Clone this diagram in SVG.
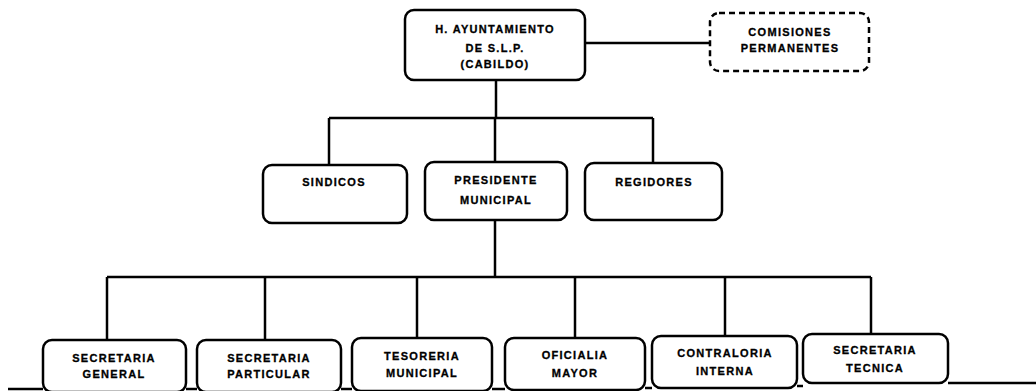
<svg xmlns="http://www.w3.org/2000/svg" width="1036" height="391" viewBox="0 0 1036 391">
<style>
.box{fill:#fff;stroke:#000;stroke-width:2.5}
.dash{fill:#fff;stroke:#000;stroke-width:2.5;stroke-dasharray:6 4}
.ln{fill:none;stroke:#000;stroke-width:2.5}
text{font-family:"Liberation Sans",Arial,sans-serif;font-weight:bold;font-size:11px;letter-spacing:1.3px;text-anchor:middle;fill:#000;stroke:#000;stroke-width:0.3}
</style>
<rect width="1036" height="391" fill="#fff"/>
<g id="connectors">
<path class="ln" d="M585 43H712"/>
<path class="ln" d="M496 80V118"/>
<path class="ln" d="M329 118H653"/>
<path class="ln" d="M329 118V165"/>
<path class="ln" d="M495 118V162"/>
<path class="ln" d="M653 118V163"/>
<path class="ln" d="M495 220V277"/>
<path class="ln" d="M107 277H871"/>
<path class="ln" d="M107 277V340"/>
<path class="ln" d="M265 277V340"/>
<path class="ln" d="M417 277V338"/>
<path class="ln" d="M575 277V338"/>
<path class="ln" d="M725 277V336"/>
<path class="ln" d="M871 277V334"/>
<path class="ln" d="M8 389H43"/>
<path class="ln" d="M186 389H197"/>
<path class="ln" d="M341 389H352"/>
<path class="ln" d="M492 389H505"/>
<path class="ln" d="M645 388H652"/>
<path class="ln" d="M797 386H803"/>
<path class="ln" d="M948 383H1036"/>
</g>
<g id="cabildo">
<rect class="box" x="405" y="10" width="180" height="70" rx="9"/>
<text x="495" y="33">H. AYUNTAMIENTO</text>
<text x="495" y="52">DE S.L.P.</text>
<text x="495" y="68">(CABILDO)</text>
</g>
<g id="comisiones">
<rect class="dash" x="710" y="13" width="159" height="58" rx="9"/>
<text x="790" y="36">COMISIONES</text>
<text x="790" y="52">PERMANENTES</text>
</g>
<g id="sindicos">
<rect class="box" x="263" y="165" width="144" height="58" rx="9"/>
<text x="334" y="186">SINDICOS</text>
</g>
<g id="presidente">
<rect class="box" x="425" y="162" width="142" height="58" rx="9"/>
<text x="496" y="184">PRESIDENTE</text>
<text x="496" y="204">MUNICIPAL</text>
</g>
<g id="regidores">
<rect class="box" x="585" y="163" width="137" height="57" rx="9"/>
<text x="654" y="186">REGIDORES</text>
</g>
<g id="sec-general">
<rect class="box" x="43" y="340" width="143" height="52" rx="9"/>
<text x="114" y="362">SECRETARIA</text>
<text x="114" y="378">GENERAL</text>
</g>
<g id="sec-particular">
<rect class="box" x="197" y="340" width="144" height="52" rx="9"/>
<text x="269" y="362">SECRETARIA</text>
<text x="269" y="378">PARTICULAR</text>
</g>
<g id="tesoreria">
<rect class="box" x="352" y="338" width="140" height="53" rx="9"/>
<text x="422" y="360">TESORERIA</text>
<text x="422" y="377">MUNICIPAL</text>
</g>
<g id="oficialia">
<rect class="box" x="505" y="338" width="140" height="52" rx="9"/>
<text x="575" y="359">OFICIALIA</text>
<text x="575" y="377">MAYOR</text>
</g>
<g id="contraloria">
<rect class="box" x="652" y="336" width="145" height="52" rx="9"/>
<text x="725" y="357">CONTRALORIA</text>
<text x="725" y="375">INTERNA</text>
</g>
<g id="sec-tecnica">
<rect class="box" x="803" y="334" width="145" height="49" rx="9"/>
<text x="875" y="354">SECRETARIA</text>
<text x="875" y="372">TECNICA</text>
</g>
</svg>
